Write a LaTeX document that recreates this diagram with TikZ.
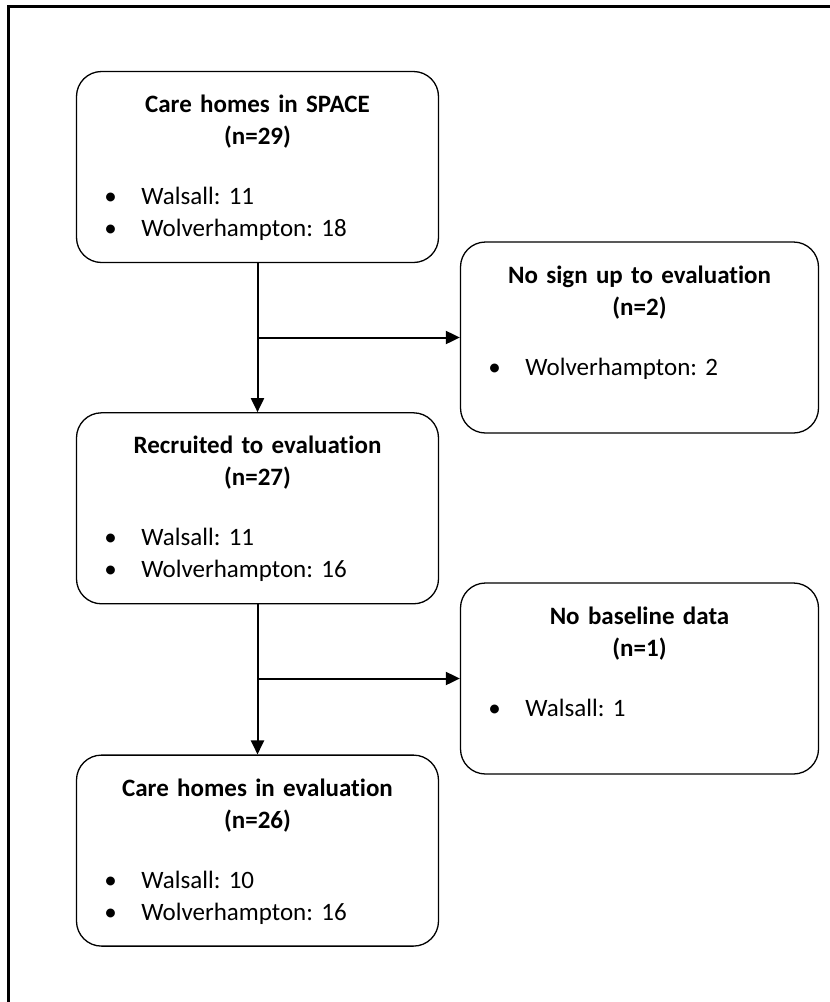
\documentclass[tikz,border=0pt]{standalone}
\usepackage{fontspec}
\setmainfont{Carlito}[Ligatures=NoCommon]
\frenchspacing
\usetikzlibrary{arrows.meta,positioning}
\newcommand{\heading}[2]{{\centering\bfseries #1\\(n=#2)\par}\vspace{28pt}}
\newcommand{\site}[1]{\noindent\hspace*{34pt}\makebox[0pt]{\textbullet}\hspace*{31pt}#1\par}

\begin{document}
\begin{tikzpicture}[x=1pt, y=-1pt,
    box/.style={draw, line width=1.3pt, rounded corners=25pt, minimum height=191pt, inner sep=0pt},
    txt/.style={inner sep=0pt, anchor=north, font=\fontsize{25}{32}\selectfont},
    arr/.style={-{Triangle[length=14pt, width=13pt]}, line width=2pt}]
  \useasboundingbox (0,0) rectangle (830,1002);
  \draw[line width=2.5pt] (8.5,1002) -- (8.5,6.5) -- (830,6.5);

  % main column
  \node[box, minimum width=362pt] (space) at (257.5,167) {};
  \node[box, minimum width=362pt, below=149pt of space] (recruit) {};
  \node[box, minimum width=362pt, below=150pt of recruit] (inEval) {};
  % side boxes
  \node[box, minimum width=358pt] (noSign) at (639.5,337.5) {};
  \node[box, minimum width=358pt] (noBase) at (639.5,678.5) {};

  \node[txt, text width=362pt, below=24pt of space.north] (spaceT) {\heading{Care homes in SPACE}{29}\site{Walsall: 11}\site{Wolverhampton: 18}};
  \node[txt, text width=362pt, below=24pt of recruit.north] (recruitT) {\heading{Recruited to evaluation}{27}\site{Walsall: 11}\site{Wolverhampton: 16}};
  \node[txt, text width=362pt, below=24pt of inEval.north] (inEvalT) {\heading{Care homes in evaluation}{26}\site{Walsall: 10}\site{Wolverhampton: 16}};
  \node[txt, text width=358pt, below=24pt of noSign.north] (noSignT) {\heading{No sign up to evaluation}{2}\site{Wolverhampton: 2}};
  \node[txt, text width=358pt, below=24pt of noBase.north] (noBaseT) {\heading{No baseline data}{1}\site{Walsall: 1}};

  \draw[arr] (space) -- (recruit);
  \draw[arr] (recruit) -- (inEval);
  \draw[arr] (space.south |- noSign.west) -- (noSign.west);
  \draw[arr] (recruit.south |- noBase.west) -- (noBase.west);
\end{tikzpicture}
\end{document}
